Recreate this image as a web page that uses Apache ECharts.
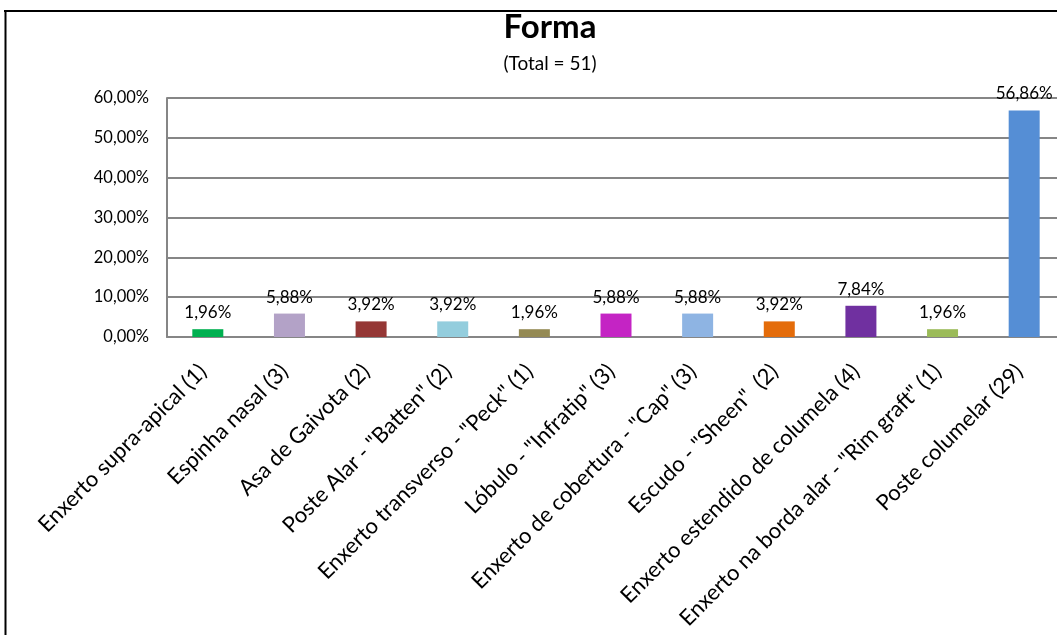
<!DOCTYPE html>
<html>
<head>
<meta charset="utf-8">
<script src="https://cdn.jsdelivr.net/npm/echarts@6/dist/echarts.min.js"></script>
<style>
  html, body { margin: 0; padding: 0; background: #ffffff; }
  #chart { width: 1057px; height: 635px; }
</style>
</head>
<body>
<div id="chart"></div>
<script>
// Categories (with case counts) and their share of the 51 cases, in percent
const categories = [
  'Enxerto supra-apical (1)',
  'Espinha nasal (3)',
  'Asa de Gaivota (2)',
  'Poste Alar - "Batten" (2)',
  'Enxerto transverso - "Peck" (1)',
  'Lóbulo - "Infratip" (3)',
  'Enxerto de cobertura - "Cap" (3)',
  'Escudo - "Sheen"  (2)',
  'Enxerto estendido de columela (4)',
  'Enxerto na borda alar - "Rim graft" (1)',
  'Poste columelar (29)'
];
const percentages = [1.96, 5.88, 3.92, 3.92, 1.96, 5.88, 5.88, 3.92, 7.84, 1.96, 56.86];
const barColors = ['#00B050', '#B3A2C7', '#953735', '#93CDDD', '#948A54', '#C424C4',
                   '#8EB4E3', '#E46C0A', '#7030A0', '#9BBB59', '#558ED5'];
const yTicks = [0, 10, 20, 30, 40, 50, 60];

const FONT = 'Lato';
const pct = v => Number(v).toFixed(2).replace('.', ',') + '%';

const chart = echarts.init(document.getElementById('chart'), null, { renderer: 'canvas' });

chart.setOption({
  backgroundColor: '#ffffff',
  animation: false,
  title: [
    {
      text: 'Forma',
      left: 545, top: 6, textAlign: 'center',
      textStyle: { fontFamily: FONT, fontWeight: 'bold', fontSize: 33, color: '#000000' }
    },
    {
      text: '(Total = 51)',
      left: 545, top: 49, textAlign: 'center',
      textStyle: { fontFamily: FONT, fontWeight: 'normal', fontSize: 19, color: '#000000' }
    }
  ],
  // plot area runs slightly past the right edge of the canvas
  grid: { left: 167, width: 898, top: 98, bottom: 298, containLabel: false, outerBoundsMode: 'none' },
  xAxis: {
    type: 'category',
    data: categories,
    axisLine: { show: true, lineStyle: { color: '#868686', width: 2 } },
    axisTick: { show: false },
    axisLabel: {
      interval: 0, rotate: 45, margin: 26, padding: [0, 7, 0, 0],
      fontFamily: FONT, fontSize: 22, color: '#000000'
    }
  },
  yAxis: {
    type: 'value',
    min: yTicks[0], max: yTicks[yTicks.length - 1], interval: 10,
    axisLine: { show: true, lineStyle: { color: '#868686', width: 2 } },
    axisTick: { show: false },
    splitLine: { show: true, lineStyle: { color: '#868686', width: 2 } },
    axisLabel: {
      margin: 18, fontFamily: FONT, fontSize: 16.5, color: '#000000',
      formatter: v => pct(v)
    }
  },
  series: [{
    type: 'bar',
    data: percentages.map((v, i) => ({ value: v, itemStyle: { color: barColors[i] } })),
    barWidth: 31,
    label: {
      show: true, position: 'top', distance: 8,
      fontFamily: FONT, fontSize: 17, color: '#000000',
      formatter: p => pct(p.value)
    }
  }],
  graphic: [
    { type: 'line', shape: { x1: 4, y1: 11, x2: 1057, y2: 11 }, style: { stroke: '#000000', lineWidth: 2 } },
    { type: 'line', shape: { x1: 5.5, y1: 10, x2: 5.5, y2: 635 }, style: { stroke: '#000000', lineWidth: 2 } }
  ]
});
</script>
</body>
</html>
